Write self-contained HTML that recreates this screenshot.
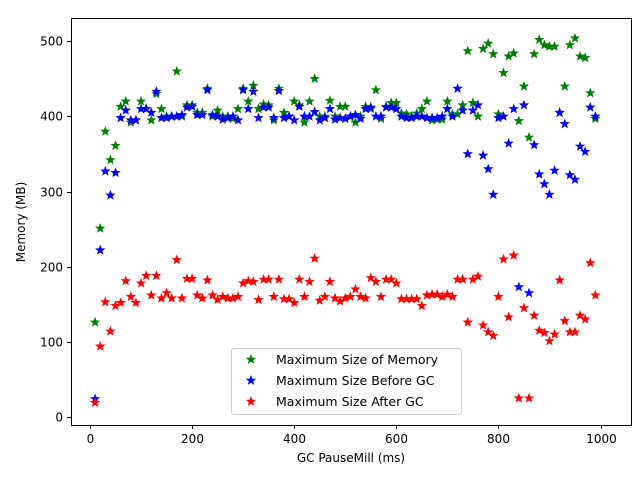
<!DOCTYPE html>
<html><head><meta charset="utf-8"><style>
html,body{margin:0;padding:0;background:#fff}
svg{display:block;font-family:"DejaVu Sans","Liberation Sans",sans-serif}
</style></head><body>
<svg id="s" width="640" height="480" viewBox="0 0 640 480" xmlns="http://www.w3.org/2000/svg">
<rect x="0" y="0" width="640" height="480" fill="#fff"/>
<g id="pts"></g>
<rect x="71.5" y="18.5" width="560" height="407" fill="none" stroke="#000" stroke-width="1"/>
<g id="ticks" stroke="#000" stroke-width="1"></g>
<g id="labels" font-size="12" fill="#000"></g>
<text x="351" y="462" font-size="12" text-anchor="middle">GC PauseMill (ms)</text>
<text transform="translate(25,222) rotate(-90)" font-size="12" text-anchor="middle">Memory (MB)</text>
<rect x="231.5" y="348.5" width="230" height="66" rx="3" fill="#fff" fill-opacity="0.8" stroke="#ccc"/>
<g id="legm"></g>
<g id="leg" font-size="12.5" fill="#000">
<text x="276" y="364">Maximum Size of Memory</text>
<text x="276" y="385">Maximum Size Before GC</text>
<text x="276" y="406">Maximum Size After GC</text>
</g>
</svg>
<script>
var G=[126,251,380,342,361,413,420,392,395,420,410,395,430,410,400,400,460,400,415,415,405,405,437,400,408,400,400,397,410,437,420,441,410,416,415,395,437,405,400,420,415,392,420,450,400,400,421,400,413,413,400,392,400,413,410,435,397,413,418,418,404,403,400,404,410,420,395,396,396,420,403,403,415,487,418,400,490,497,483,403,458,480,484,394,440,372,483,502,495,493,493,405,440,495,504,480,478,431,397];
var B=[24,222,327,295,325,398,408,395,395,410,410,405,433,398,398,400,400,402,412,413,402,402,435,402,400,396,398,400,395,435,410,433,398,412,412,398,434,398,400,395,413,400,400,406,395,398,410,396,398,397,400,402,397,410,412,400,400,412,412,410,400,398,398,400,400,398,398,398,400,410,400,437,408,350,408,415,348,330,296,398,400,364,410,173,415,165,362,323,310,296,328,405,390,322,316,360,353,412,400];
var R=[19,94,153,114,148,152,181,160,152,178,188,162,188,158,165,158,209,158,184,184,162,158,182,162,156,160,158,158,160,178,181,180,156,183,183,160,183,157,157,152,183,160,180,211,155,160,180,158,154,158,160,170,160,158,185,180,160,183,183,178,157,157,157,157,148,162,163,163,160,163,160,183,183,126,183,187,122,113,108,160,210,133,215,25,145,25,135,115,112,101,110,182,128,113,113,135,130,205,162];
function X(v){return 90+v*0.5105}
function Y(v){return 417-v*0.7515}
function star(cx,cy,r,c){var p=[];for(var i=0;i<10;i++){var a=-Math.PI/2+i*Math.PI/5;var rr=i%2?r*0.42:r;p.push((cx+rr*Math.cos(a)).toFixed(2)+','+(cy+rr*Math.sin(a)).toFixed(2));}
return '<polygon points="'+p.join(' ')+'" fill="'+c+'" stroke="'+c+'" stroke-width="0.6"/>';}
var h='';
[[G,'#008000'],[B,'#0000ff'],[R,'#ff0000']].forEach(function(s){s[0].forEach(function(v,i){h+=star(X(10+i*10),Y(v),4.6,s[1]);});});
document.getElementById('pts').innerHTML=h;
document.getElementById('legm').innerHTML=star(251,359.5,4.6,'#008000')+star(251,380.5,4.6,'#0000ff')+star(251,401.5,4.6,'#ff0000');
var t='',l='';
for(var k=0;k<=1000;k+=200){var x=Math.round(X(k))+0.5;t+='<line x1="'+x+'" y1="425" x2="'+x+'" y2="429"/>';l+='<text x="'+x+'" y="443" text-anchor="middle">'+k+'</text>';}
for(var k=0;k<=500;k+=100){var y=Math.round(Y(k))+0.5;t+='<line x1="67" y1="'+y+'" x2="71" y2="'+y+'"/>';l+='<text x="63" y="'+(y+4)+'" text-anchor="end">'+k+'</text>';}
document.getElementById('ticks').innerHTML=t;document.getElementById('labels').innerHTML=l;
</script>
</body></html>
